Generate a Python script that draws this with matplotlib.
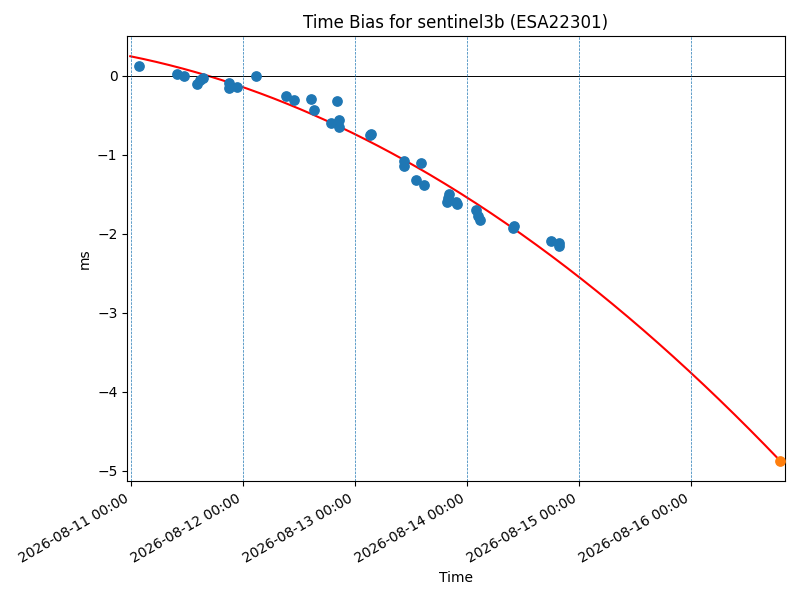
import numpy as np
import pandas as pd
import matplotlib
matplotlib.use("Agg")
import matplotlib.pyplot as plt
import matplotlib.dates as mdates

# measured time bias (ms)
obs_times = ["2026-08-11 01:42", "2026-08-11 09:47", "2026-08-11 11:25", "2026-08-11 14:04",
             "2026-08-11 14:47", "2026-08-11 15:17", "2026-08-11 21:04", "2026-08-11 21:04",
             "2026-08-11 22:46", "2026-08-12 02:47", "2026-08-12 09:13", "2026-08-12 11:00",
             "2026-08-12 14:34", "2026-08-12 15:17", "2026-08-12 18:52", "2026-08-12 20:12",
             "2026-08-12 20:38", "2026-08-12 20:38", "2026-08-13 03:13", "2026-08-13 03:22",
             "2026-08-13 10:31", "2026-08-13 10:31", "2026-08-13 14:08", "2026-08-13 13:05",
             "2026-08-13 14:51", "2026-08-13 20:12", "2026-08-13 20:00", "2026-08-13 19:39",
             "2026-08-13 21:56", "2026-08-13 21:43", "2026-08-14 01:55", "2026-08-14 02:24",
             "2026-08-14 02:47", "2026-08-14 09:56", "2026-08-14 10:05", "2026-08-14 18:00",
             "2026-08-14 19:41", "2026-08-14 19:48"]
obs_bias = [0.13, 0.02, 0.00, -0.097,
            -0.055, -0.03, -0.084, -0.156,
            -0.139, 0.00, -0.26, -0.30,
            -0.29, -0.43, -0.60, -0.316,
            -0.56, -0.64, -0.745, -0.735,
            -1.073, -1.136, -1.107, -1.313,
            -1.38, -1.494, -1.545, -1.60,
            -1.62, -1.60, -1.696, -1.77,
            -1.82, -1.923, -1.90, -2.09,
            -2.11, -2.15]

# quadratic fit, days since 2026-08-11 00:00 (c2, c1, c0)
fit_coef = [-0.1028, -0.287, 0.247]
fit_start = "2026-08-10 23:47"
fit_end = "2026-08-16 19:05"

pred_time = ["2026-08-16 19:05"]
pred_bias = [-4.874]

xlim_range = ["2026-08-10 23:08", "2026-08-16 20:08"]
day_lines = pd.date_range("2026-08-11", "2026-08-16", freq="D")

t0 = pd.Timestamp("2026-08-11")
tt = pd.to_datetime(obs_times)
fit_t = pd.date_range(fit_start, fit_end, periods=300)
fit_days = (fit_t - t0) / pd.Timedelta(days=1)

fig, ax = plt.subplots(figsize=(8, 6), dpi=100)
ax.scatter(tt, obs_bias, s=45, color="tab:blue", zorder=3)
ax.plot(fit_t, np.polyval(fit_coef, fit_days), color="red", zorder=2)
ax.scatter(pd.to_datetime(pred_time), pred_bias, s=45, color="tab:orange", zorder=4)
ax.axhline(0, color="black", lw=0.7)
for d in day_lines:
    ax.axvline(d, color="C0", ls="--", lw=0.5)

ax.set_xlim(pd.to_datetime(xlim_range))
ax.xaxis.set_major_locator(mdates.DayLocator())
ax.xaxis.set_major_formatter(mdates.DateFormatter("%Y-%m-%d %H:%M"))
fig.autofmt_xdate()
ax.set_title("Time Bias for sentinel3b (ESA22301)")
ax.set_xlabel("Time")
ax.set_ylabel("ms")
fig.subplots_adjust(left=0.159, right=0.981, top=0.94, bottom=0.198)
fig.savefig("out.png")
